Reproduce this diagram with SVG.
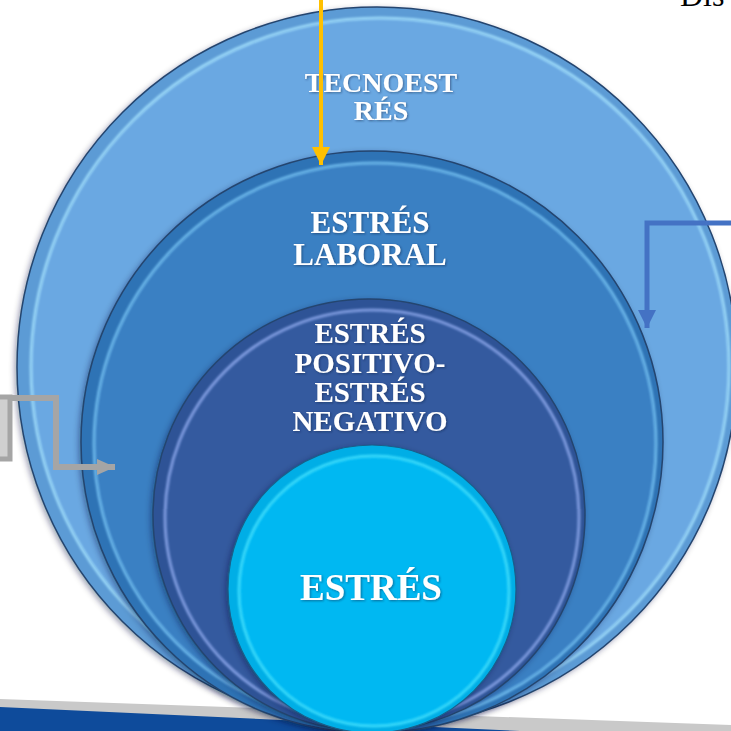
<svg xmlns="http://www.w3.org/2000/svg" width="731" height="731" viewBox="0 0 731 731">
<style>
.lbl{font-family:"Liberation Serif","Times New Roman",serif;font-weight:bold;fill:#ffffff;text-anchor:middle;filter:url(#tsh)}
.edge{fill:none;stroke:#24456f;stroke-width:1.5}
.hl{fill:none;stroke-width:3;filter:url(#blur)}
</style>
<defs>
<filter id="blur" x="-10%" y="-10%" width="120%" height="120%"><feGaussianBlur stdDeviation="1.2"/></filter>
<filter id="sh" x="-10%" y="-10%" width="120%" height="120%"><feDropShadow dx="-2" dy="2" stdDeviation="3" flood-color="#0a1e3c" flood-opacity="0.45"/></filter>
<filter id="tsh" x="-10%" y="-20%" width="120%" height="140%"><feDropShadow dx="1" dy="1" stdDeviation="0.8" flood-color="#102040" flood-opacity="0.5"/></filter>
<marker id="aO" markerUnits="userSpaceOnUse" viewBox="0 0 18 18" refX="18" refY="9" markerWidth="18" markerHeight="18" orient="auto"><path d="M0,0 L18,9 L0,18 z" fill="#FFC000"/></marker>
<marker id="aB" markerUnits="userSpaceOnUse" viewBox="0 0 18 18" refX="18" refY="9" markerWidth="18" markerHeight="18" orient="auto"><path d="M0,0 L18,9 L0,18 z" fill="#4472C4"/></marker>
<marker id="aG" markerUnits="userSpaceOnUse" viewBox="0 0 18 16" refX="18" refY="8" markerWidth="18" markerHeight="16" orient="auto"><path d="M0,0 L18,8 L0,16 z" fill="#A5A5A5"/></marker>
</defs>
<rect width="731" height="731" fill="#ffffff"/>
<g id="band">
<polygon points="0,699 731,725 731,731 0,731" fill="#c9c9c9"/>
<polygon points="0,707 520,731 0,731" fill="#0e4b9b"/>
</g>
<text x="680" y="6" font-family="Liberation Serif, serif" font-size="32" fill="#000000">Dis</text>
<g id="tecnoestres">
<circle cx="377" cy="367" r="360" fill="#5b9bd5" filter="url(#sh)"/>
<circle cx="377" cy="367" r="360" class="edge"/>
<circle cx="380" cy="367" r="348" fill="#6aa8e2"/>
<circle cx="380" cy="367" r="349" class="hl" stroke="#a6e3ff" stroke-opacity="0.8"/>
<text class="lbl" x="381" y="92" font-size="28">TECNOEST</text>
<text class="lbl" x="381" y="120" font-size="28">RÉS</text>
</g>
<g id="estres-laboral">
<circle cx="372" cy="442" r="291" fill="#2f73b5" filter="url(#sh)"/>
<circle cx="372" cy="442" r="291" class="edge"/>
<circle cx="375" cy="444" r="280" fill="#3a80c3"/>
<circle cx="375" cy="444" r="281" class="hl" stroke="#78c4f5" stroke-opacity="0.8"/>
<text class="lbl" x="370" y="233" font-size="31">ESTRÉS</text>
<text class="lbl" x="370" y="265" font-size="31">LABORAL</text>
</g>
<g id="estres-positivo-negativo">
<circle cx="369" cy="515" r="216" fill="#2f5396" filter="url(#sh)"/>
<circle cx="369" cy="515" r="216" class="edge"/>
<circle cx="372" cy="517" r="206" fill="#345a9f"/>
<circle cx="372" cy="517" r="207" class="hl" stroke="#8aa6ea" stroke-opacity="0.85"/>
<text class="lbl" x="370" y="343" font-size="29">ESTRÉS</text>
<text class="lbl" x="370" y="373" font-size="29">POSITIVO-</text>
<text class="lbl" x="370" y="402" font-size="29">ESTRÉS</text>
<text class="lbl" x="370" y="431" font-size="29">NEGATIVO</text>
</g>
<g id="estres">
<circle cx="372" cy="589" r="144" fill="#00aee6" filter="url(#sh)"/>
<circle cx="372" cy="589" r="144" stroke="#1a5f8a" stroke-width="1.2" fill="none"/>
<circle cx="374" cy="591" r="134" fill="#00b8f2"/>
<circle cx="374" cy="591" r="135" class="hl" stroke="#3fe0ff" stroke-opacity="0.85"/>
<text class="lbl" x="371" y="600" font-size="37">ESTRÉS</text>
</g>
<g id="gray-box">
<rect x="-20" y="397" width="30" height="62" fill="#d0d0d0" stroke="#a5a5a5" stroke-width="5"/>
</g>
<g id="connectors" fill="none">
<path d="M321,0 V165" stroke="#FFC000" stroke-width="4" marker-end="url(#aO)"/>
<path d="M731,223 H647 V328" stroke="#4472C4" stroke-width="5" marker-end="url(#aB)"/>
<path d="M10,398 H56 V467 H115" stroke="#A5A5A5" stroke-width="6" marker-end="url(#aG)"/>
</g>
</svg>
